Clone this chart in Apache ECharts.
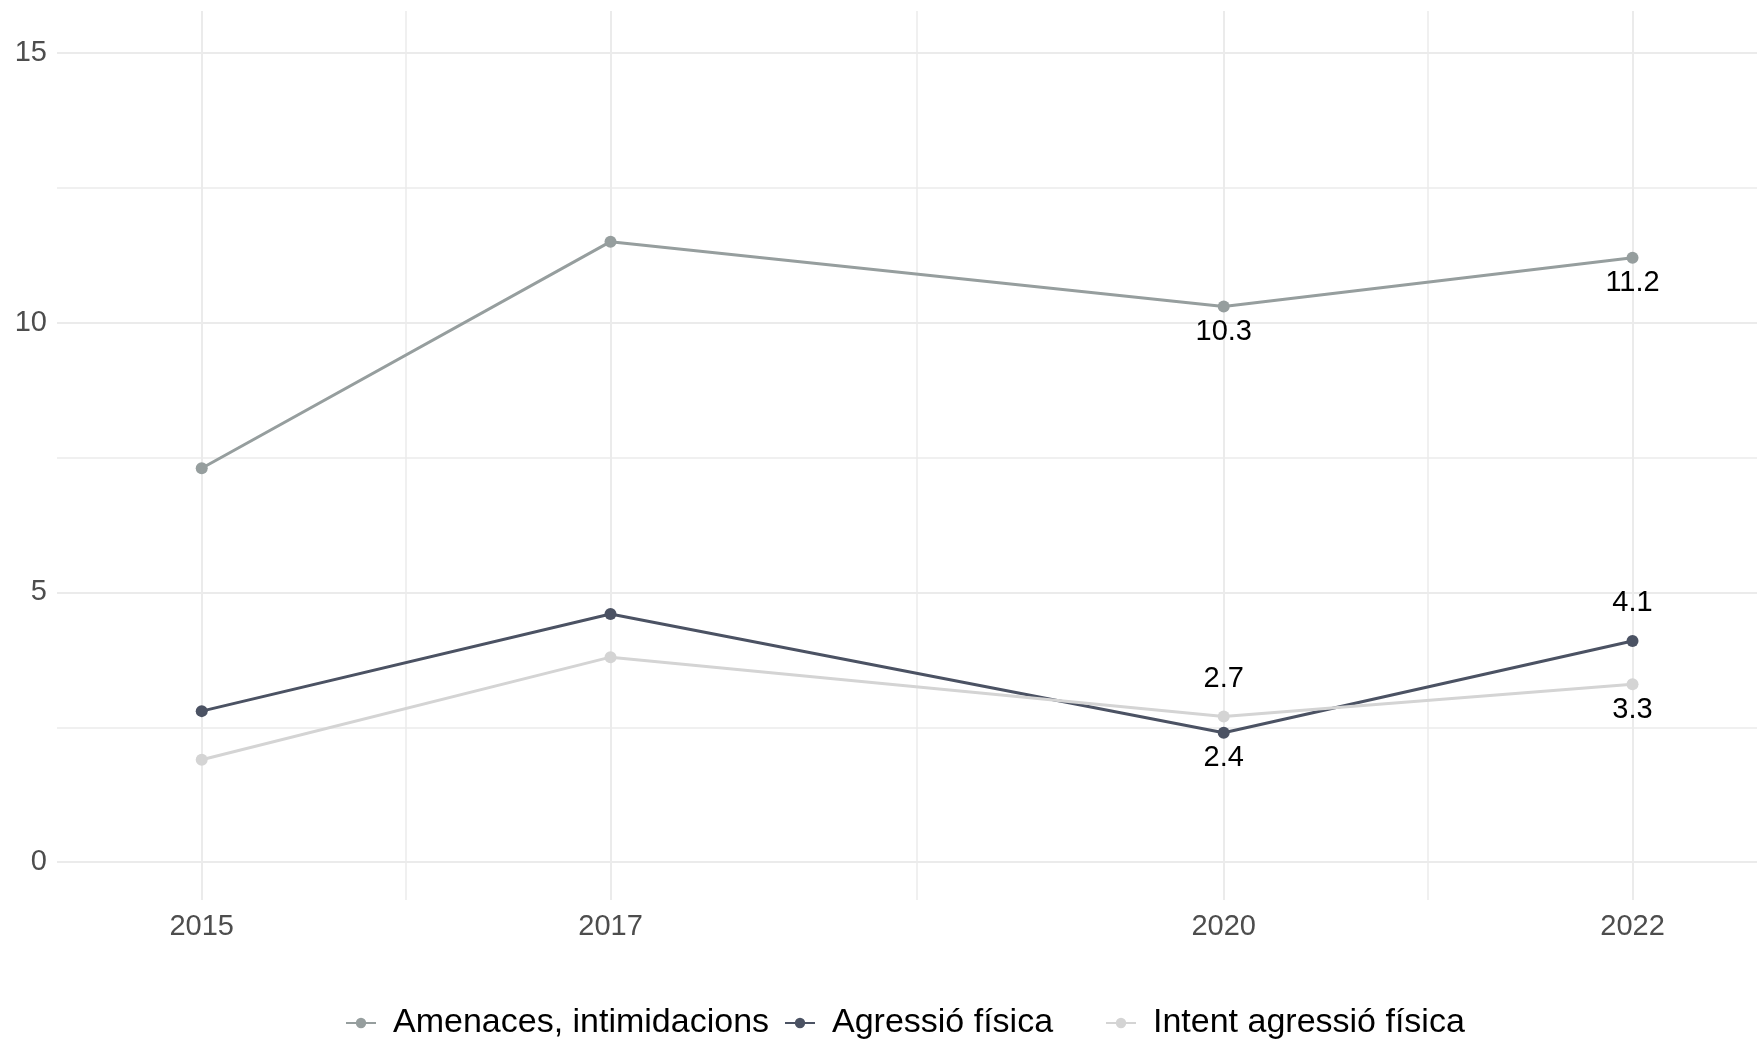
<!DOCTYPE html>
<html>
<head>
<meta charset="utf-8">
<script src="https://cdn.jsdelivr.net/npm/echarts@6/dist/echarts.min.js"></script>
<style>
html,body{margin:0;padding:0;background:#fff;}
#chart{width:1757px;height:1039px;}
</style>
</head>
<body>
<div id="chart"></div>
<script>
// ---- data ----
var years = [2015, 2017, 2020, 2022];
var seriesNames = ['Amenaces, intimidacions', 'Agressió física', 'Intent agressió física'];
var amenaces = [7.3, 11.5, 10.3, 11.2];
var agressio = [2.8, 4.6, 2.4, 4.1];
var intent = [1.9, 3.8, 2.7, 3.3];
var xTicks = [2015, 2017, 2020, 2022];
var xMinorTicks = [2016, 2018.5, 2021];
var yTicks = [0, 5, 10, 15];
var yMinorTicks = [2.5, 7.5, 12.5];
// label placement for labelled points (2020, 2022) per series: null = no label
var labelPos = [
  [null, null, 'bottom', 'bottom'],
  [null, null, 'bottom', 'top'],
  [null, null, 'top', 'bottom']
];

var colors = ['#969e9e', '#4b5263', '#d4d4d4'];
var FONT = "'Liberation Sans', Arial, sans-serif";
var values = [amenaces, agressio, intent];

function buildData(vals, pos) {
  return years.map(function (y, i) {
    var item = { value: [y, vals[i]] };
    if (pos[i]) {
      item.label = {
        show: true,
        position: pos[i],
        distance: pos[i] === 'top' ? 17 : 5
      };
    }
    return item;
  });
}

var series = seriesNames.map(function (name, s) {
  return {
    name: name,
    type: 'line',
    xAxisIndex: 0,
    yAxisIndex: 0,
    data: buildData(values[s], labelPos[s]),
    symbol: 'circle',
    symbolSize: 12,
    lineStyle: { width: 3, color: colors[s] },
    itemStyle: { color: colors[s] },
    label: {
      show: false,
      color: '#000',
      fontSize: 29,
      fontFamily: FONT,
      formatter: function (p) { return p.value[1].toFixed(1); }
    },
    emphasis: { disabled: true },
    animation: false,
    z: 3 + s
  };
});

var legendLefts = [345, 784, 1105];
var legends = seriesNames.map(function (name, s) {
  return {
    data: [name],
    left: legendLefts[s],
    top: 1006,
    padding: 0,
    itemWidth: 30,
    itemHeight: 13,
    selectedMode: false,
    textStyle: {
      fontSize: 34,
      fontFamily: FONT,
      color: '#000',
      padding: [0, 0, 0, 12]
    }
  };
});

var xMin = 2014.292, xMax = 2022.609;
var yMin = -0.7, yMax = 15.774;
var gridLineColor = '#ebebeb';

var option = {
  backgroundColor: '#fff',
  animation: false,
  color: colors,
  grid: { left: 57, right: 0, top: 11, bottom: 139, containLabel: false },
  legend: legends,
  xAxis: [
    {
      type: 'value', min: xMin, max: xMax,
      axisLine: { show: false },
      axisTick: { show: false, customValues: xTicks },
      axisLabel: {
        customValues: xTicks, color: '#4d4d4d', fontSize: 29, fontFamily: FONT, margin: 12,
        formatter: function (v) { return String(v); }
      },
      splitLine: { show: true, lineStyle: { color: gridLineColor, width: 2 } },
      z: 1
    },
    {
      type: 'value', min: xMin, max: xMax, position: 'bottom',
      axisLine: { show: false },
      axisTick: { show: false, customValues: xMinorTicks },
      axisLabel: { show: false, customValues: xMinorTicks },
      splitLine: { show: true, lineStyle: { color: gridLineColor, width: 1.5 } },
      z: 0
    }
  ],
  yAxis: [
    {
      type: 'value', min: yMin, max: yMax,
      axisLine: { show: false },
      axisTick: { show: false, customValues: yTicks },
      axisLabel: {
        customValues: yTicks, color: '#4d4d4d', fontSize: 29, fontFamily: FONT, margin: 10
      },
      splitLine: { show: true, lineStyle: { color: gridLineColor, width: 2 } },
      z: 1
    },
    {
      type: 'value', min: yMin, max: yMax, position: 'left',
      axisLine: { show: false },
      axisTick: { show: false, customValues: yMinorTicks },
      axisLabel: { show: false, customValues: yMinorTicks },
      splitLine: { show: true, lineStyle: { color: gridLineColor, width: 1.5 } },
      z: 0
    }
  ],
  series: series
};

var chart = echarts.init(document.getElementById('chart'), null, { renderer: 'canvas' });
chart.setOption(option);
</script>
</body>
</html>
